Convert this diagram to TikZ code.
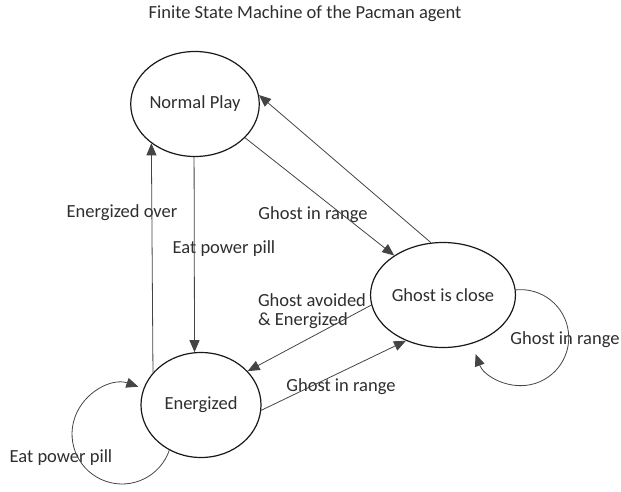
\documentclass[tikz,border=0pt]{standalone}
\usepackage{fontspec}
\setmainfont{Carlito}
\usetikzlibrary{arrows.meta,shapes.geometric}
\definecolor{inkgray}{HTML}{2E2E2E}
\definecolor{linegray}{HTML}{444444}

\begin{document}
\begin{tikzpicture}[
  x=1pt, y=1pt,
  state/.style={draw=black!90, line width=1.2pt, ellipse, minimum width=120pt, minimum height=105pt, inner sep=0pt, font=\fontsize{18.5}{19.5}\selectfont, text=inkgray},
  lbl/.style={font=\fontsize{18.5}{19.5}\selectfont, text=inkgray, inner sep=0pt, align=left},
  arr/.style={-{Triangle[length=12pt,width=10pt]}, line width=0.8pt, color=linegray}
]
\useasboundingbox (0,0) rectangle (621,-491);
\node[lbl] (title) at (305,-14) {Finite State Machine of the Pacman agent};
\node[state] (normal) at (195,-104) {Normal Play};
\node[state] (close) at (443,-295) {Ghost is close};
\node[state] (energized) at (201,-405) {Energized};

\node[lbl] (overlbl) at (122,-213) {Energized over};
\node[lbl] (pilllbl) at (224,-249) {Eat power pill};
\node[lbl] (rangelbl) at (313,-215) {Ghost in range};
\node[lbl] (avoidlbl) at (312,-311) {Ghost avoided\\\& Energized};
\node[lbl] (rangelbl2) at (341,-387) {Ghost in range};
\node[lbl] (looplbl) at (565,-340) {Ghost in range};
\node[lbl] (looplbl2) at (61,-458) {Eat power pill};

\draw[arr] (energized.146) -- (normal.222);
\draw[arr] (normal.269) -- (energized.97);
\draw[arr] (normal.326) -- (close.141);
\draw[arr] (close.103) -- (normal.8);
\draw[arr] (close.188) -- (energized.36);
\draw[arr] (energized.355) -- (close.231);
\draw[arr] (energized.235) arc[start angle=-19, end angle=-289, radius=50];
\draw[arr] (close.4) arc[start angle=96, end angle=-160, radius=48];
\end{tikzpicture}
\end{document}
